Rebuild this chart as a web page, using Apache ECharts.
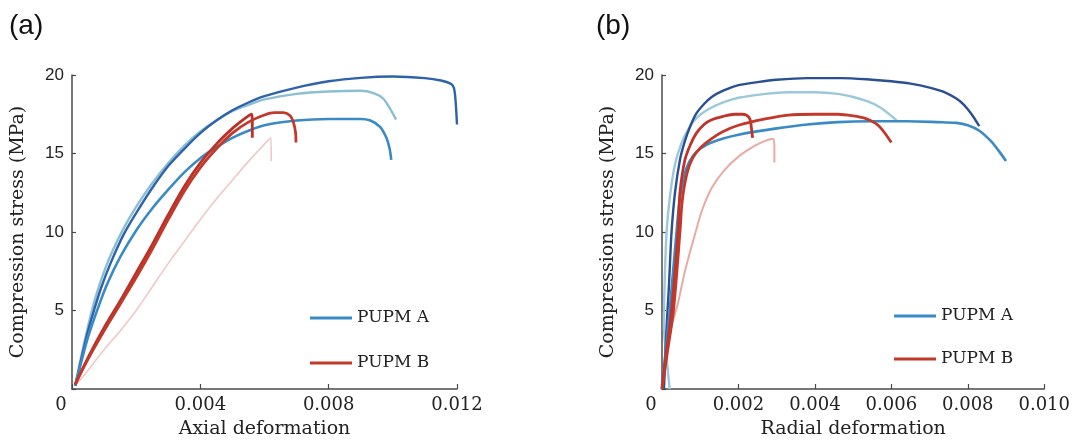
<!DOCTYPE html>
<html>
<head>
<meta charset="utf-8">
<script src="https://cdn.jsdelivr.net/npm/echarts@6/dist/echarts.min.js"></script>
<style>
html,body{margin:0;padding:0;background:#fff;}
#chart{width:1073px;height:444px;}
</style>
</head>
<body>
<div id="chart"></div>
<script>
// ---- Data (strain, stress MPa) ----
const panelLabels = ['(a)', '(b)'];
const xAxisNames = ['Axial deformation', 'Radial deformation'];
const yAxisName = 'Compression stress (MPa)';
const legendNames = ['PUPM A', 'PUPM B'];
const yTicks = [0, 5, 10, 15, 20];
const xTicksA = [0, 0.004, 0.008, 0.012];
const xTicksB = [0, 0.002, 0.004, 0.006, 0.008, 0.010];

// Panel (a): axial deformation
const axialA1 = [[0.0001,0.2],[0.0003,2.0],[0.0005,3.7],[0.0007,5.1],[0.0009,6.4],[0.0012,8.0],[0.0016,9.8],[0.002,11.2],[0.0025,12.8],[0.003,14.2],[0.0035,15.3],[0.004,16.3],[0.0045,17.1],[0.005,17.75],[0.0055,18.25],[0.006,18.65],[0.007,19.2],[0.008,19.6],[0.009,19.82],[0.010,19.9],[0.011,19.8],[0.0115,19.65],[0.0118,19.45],[0.0119,19.2],[0.01195,18.5],[0.012,16.85]];
const axialA2 = [[0.0001,0.2],[0.0003,2.2],[0.0005,4.0],[0.0007,5.6],[0.0009,6.9],[0.0012,8.5],[0.0016,10.2],[0.002,11.6],[0.0025,13.1],[0.003,14.4],[0.0035,15.5],[0.004,16.4],[0.0045,17.1],[0.005,17.7],[0.0055,18.1],[0.006,18.45],[0.007,18.8],[0.008,18.95],[0.009,19.0],[0.0094,18.85],[0.0097,18.5],[0.0099,17.9],[0.0101,17.16]];
const axialA3 = [[0.0001,0.2],[0.0003,1.8],[0.0005,3.3],[0.0008,5.1],[0.0011,6.7],[0.0015,8.4],[0.002,10.1],[0.0025,11.5],[0.003,12.7],[0.0035,13.8],[0.004,14.7],[0.0045,15.4],[0.005,16.0],[0.0055,16.45],[0.006,16.8],[0.007,17.1],[0.008,17.2],[0.009,17.2],[0.0093,17.1],[0.0096,16.7],[0.0098,16.0],[0.0099,15.3],[0.00995,14.6]];
const axialB1 = [[0.0001,0.3],[0.0005,1.9],[0.001,3.7],[0.0015,5.4],[0.002,7.1],[0.0025,8.9],[0.003,10.8],[0.0035,12.6],[0.004,14.1],[0.0045,15.3],[0.005,16.3],[0.0055,17.0],[0.006,17.45],[0.0063,17.6],[0.0066,17.6],[0.0068,17.4],[0.0069,17.0],[0.00697,16.3],[0.00698,15.7]];
const axialB2 = [[0.0001,0.3],[0.0005,2.0],[0.001,3.9],[0.0015,5.6],[0.002,7.4],[0.0025,9.2],[0.003,11.1],[0.0035,12.9],[0.004,14.4],[0.0045,15.6],[0.005,16.6],[0.0053,17.1],[0.0055,17.4],[0.0056,17.5],[0.00562,17.1],[0.00562,16.0]];
const axialB3 = [[0.0001,0.2],[0.0005,1.2],[0.001,2.5],[0.0015,3.7],[0.002,5.0],[0.0025,6.5],[0.003,8.0],[0.0035,9.4],[0.004,10.8],[0.0045,12.1],[0.005,13.3],[0.0055,14.5],[0.006,15.6],[0.0062,16.0],[0.00621,14.5]];

// Panel (b): radial deformation
const radialA1 = [[0.00005,0],[0.0001,3],[0.00018,6.5],[0.00025,10],[0.00034,12.5],[0.00047,14.6],[0.0006,15.8],[0.00075,16.8],[0.0009,17.55],[0.0011,18.15],[0.0013,18.6],[0.0016,19.0],[0.002,19.35],[0.0025,19.55],[0.003,19.7],[0.0038,19.8],[0.0047,19.8],[0.0055,19.7],[0.006,19.6],[0.0065,19.45],[0.007,19.2],[0.0074,18.9],[0.0077,18.5],[0.0079,18.1],[0.0081,17.5],[0.0083,16.74]];
const radialA2 = [[0.0002,0],[0.00012,2],[0.00005,4],[0.00006,6],[0.00012,10],[0.00022,12.5],[0.00034,14.3],[0.0005,15.6],[0.0007,16.6],[0.0009,17.25],[0.0012,17.8],[0.0016,18.25],[0.002,18.55],[0.0027,18.8],[0.0033,18.9],[0.004,18.9],[0.0046,18.8],[0.005,18.6],[0.0054,18.3],[0.0057,17.95],[0.006,17.4],[0.00614,17.1]];
const radialA3 = [[0,0],[0.0001,2.5],[0.0002,5],[0.00038,10],[0.00046,12.0],[0.00058,13.6],[0.00072,14.5],[0.0009,15.1],[0.0012,15.6],[0.0016,15.95],[0.002,16.2],[0.003,16.6],[0.0038,16.85],[0.0046,17.0],[0.0055,17.05],[0.0064,17.05],[0.0072,17.0],[0.0077,16.95],[0.008,16.8],[0.0083,16.45],[0.0086,15.8],[0.0088,15.2],[0.009,14.53]];
const radialB1 = [[0,0],[0.00015,2.5],[0.0003,5],[0.00047,10],[0.00053,12.0],[0.00065,13.7],[0.0008,14.7],[0.001,15.35],[0.0013,15.95],[0.0016,16.4],[0.002,16.8],[0.0027,17.2],[0.0033,17.45],[0.004,17.5],[0.0046,17.5],[0.005,17.4],[0.0053,17.25],[0.0056,16.9],[0.0058,16.4],[0.006,15.7]];
const radialB2 = [[0,0],[0.00012,2.5],[0.00025,5],[0.00042,10],[0.00047,12.5],[0.0006,14.6],[0.00075,15.6],[0.0009,16.3],[0.0011,16.85],[0.0013,17.15],[0.0016,17.37],[0.0019,17.5],[0.0021,17.5],[0.0022,17.45],[0.0023,17.2],[0.00234,16.6],[0.00237,16.0]];
const radialB3 = [[0.00005,0],[0.00016,3.1],[0.00042,5.5],[0.0006,7.5],[0.00088,10],[0.00105,11.4],[0.0013,12.8],[0.0016,13.85],[0.002,14.8],[0.0024,15.45],[0.0027,15.8],[0.0029,15.94],[0.00294,15.48],[0.00294,14.43]];

// ---- Chart ----
const chart = echarts.init(document.getElementById('chart'), null, {renderer: 'canvas'});

const gridDefs = [
  {left: 72, top: 75, width: 385, height: 317},
  {left: 662, top: 75, width: 385, height: 317}
];
const axisColor = '#4a4a4a';
const serif = '"DejaVu Serif", serif';
const sans = '"Liberation Sans", Arial, sans-serif';

function xAxisDef(idx, ticks) {
  return {
    type: 'value', gridIndex: idx,
    min: ticks[0], max: ticks[ticks.length - 1], interval: ticks[1] - ticks[0],
    name: xAxisNames[idx], nameLocation: 'middle', nameGap: 31,
    nameTextStyle: {fontFamily: serif, fontSize: 19, color: '#222'},
    axisLine: {show: true, lineStyle: {color: axisColor, width: 1.5}},
    axisTick: {show: true, inside: true, length: 5, lineStyle: {color: axisColor, width: 1.2}},
    splitLine: {show: false},
    axisLabel: {
      margin: 7, fontFamily: serif, fontSize: 18, color: '#222',
      formatter: v => v === 0 ? '{z|0}' : v.toFixed(3),
      rich: {z: {fontFamily: serif, fontSize: 18, color: '#222', padding: [0, 22, 0, 0]}}
    }
  };
}
function yAxisDef(idx) {
  return {
    type: 'value', gridIndex: idx,
    min: yTicks[0], max: yTicks[yTicks.length - 1], interval: yTicks[1] - yTicks[0],
    name: yAxisName, nameLocation: 'middle', nameGap: 44, nameRotate: 90,
    nameTextStyle: {fontFamily: serif, fontSize: 19, color: '#222'},
    axisLine: {show: true, lineStyle: {color: axisColor, width: 1.5}},
    axisTick: {show: true, inside: true, length: 4, lineStyle: {color: axisColor, width: 1.2}},
    splitLine: {show: false},
    axisLabel: {
      margin: 8, fontFamily: sans, fontSize: 17, color: '#222',
      formatter: v => v === 0 ? '' : String(v)
    }
  };
}

function line(name, data, idx, color, width) {
  return {
    type: 'line', name: name, data: data,
    xAxisIndex: idx, yAxisIndex: idx,
    showSymbol: false, symbol: 'none', smooth: 0.3,
    lineStyle: {color: color, width: width},
    itemStyle: {color: color},
    z: 2
  };
}

const blueMain = '#3a8bc5';
const redMain = '#c0392b';

const option = {
  animation: false,
  backgroundColor: '#ffffff',
  grid: gridDefs.map(g => Object.assign({containLabel: false}, g)),
  xAxis: [xAxisDef(0, xTicksA), xAxisDef(1, xTicksB)],
  yAxis: [yAxisDef(0), yAxisDef(1)],
  legend: [
    {data: legendNames, orient: 'vertical', left: 310, top: 308, icon: 'rect', padding: 0,
     itemWidth: 42, itemHeight: 3, itemGap: 25,
     textStyle: {fontFamily: serif, fontSize: 17, color: '#222', lineHeight: 20}},
    {data: legendNames, orient: 'vertical', left: 894, top: 306, icon: 'rect', padding: 0,
     itemWidth: 42, itemHeight: 3, itemGap: 23,
     textStyle: {fontFamily: serif, fontSize: 17, color: '#222', lineHeight: 20}}
  ],
  graphic: [
    {type: 'text', left: 9, top: 12, style: {text: panelLabels[0], font: '28px "Liberation Sans", Arial, sans-serif', fill: '#111'}},
    {type: 'text', left: 596, top: 12, style: {text: panelLabels[1], font: '28px "Liberation Sans", Arial, sans-serif', fill: '#111'}}
  ],
  series: [
    line('PUPM B pink a', axialB3, 0, '#eccac7', 1.6),
    line('PUPM A light a', axialA2, 0, '#8cbfd3', 2.4),
    line('PUPM A dark a', axialA1, 0, '#2e63ab', 2.4),
    line('PUPM A', axialA3, 0, blueMain, 2.6),
    line('PUPM B 2 a', axialB2, 0, '#b83228', 2.8),
    line('PUPM B', axialB1, 0, redMain, 2.8),

    line('PUPM B pink b', radialB3, 1, '#e8aaa5', 2),
    line('PUPM A light b', radialA2, 1, '#9cc8dc', 2.4),
    line('PUPM A dark b', radialA1, 1, '#2a4f93', 2.4),
    line('PUPM A b', radialA3, 1, blueMain, 2.6),
    line('PUPM B 2 b', radialB2, 1, '#bf3329', 2.8),
    line('PUPM B b', radialB1, 1, redMain, 2.8)
  ]
};
chart.setOption(option);
</script>
</body>
</html>
